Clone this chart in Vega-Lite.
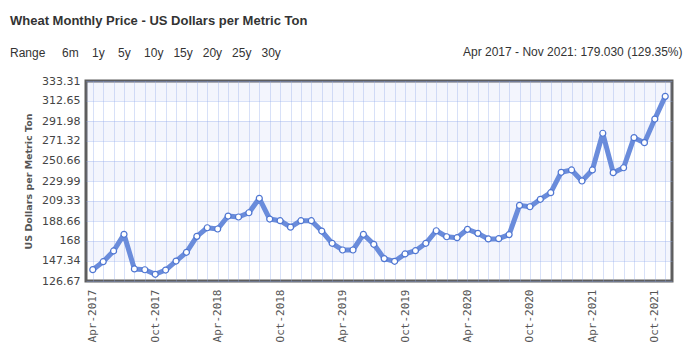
{
  "$schema": "https://vega.github.io/schema/vega-lite/v6.json",
  "autosize": {"type": "none"},
  "padding": {"left": 86, "top": 81, "right": 17, "bottom": 79},
  "width": 586,
  "height": 200,
  "background": "white",
  "title": {
    "text": "Wheat Monthly Price - US Dollars per Metric Ton",
    "subtitle": "Range\u00a0\u00a0\u00a0\u00a0\u00a06m\u00a0\u00a0\u00a0\u00a01y\u00a0\u00a0\u00a0\u00a05y\u00a0\u00a0\u00a0\u00a010y\u00a0\u00a0\u00a015y\u00a0\u00a0\u00a020y\u00a0\u00a0\u00a025y\u00a0\u00a0\u00a030y",
    "anchor": "start",
    "frame": "group",
    "dx": -76,
    "offset": -14,
    "font": "Liberation Sans",
    "fontSize": 13,
    "fontWeight": "bold",
    "color": "#333333",
    "subtitleFont": "Liberation Sans",
    "subtitleFontSize": 12,
    "subtitleColor": "#333333",
    "subtitlePadding": 20
  },
  "datasets": {
    "prices": [
      {"month": "Apr-2017", "price": 138.4},
      {"month": "May-2017", "price": 146.6},
      {"month": "Jun-2017", "price": 157.7},
      {"month": "Jul-2017", "price": 174.9},
      {"month": "Aug-2017", "price": 139.1},
      {"month": "Sep-2017", "price": 138.3},
      {"month": "Oct-2017", "price": 133.6},
      {"month": "Nov-2017", "price": 138.0},
      {"month": "Dec-2017", "price": 147.3},
      {"month": "Jan-2018", "price": 156.3},
      {"month": "Feb-2018", "price": 172.8},
      {"month": "Mar-2018", "price": 181.7},
      {"month": "Apr-2018", "price": 180.4},
      {"month": "May-2018", "price": 193.8},
      {"month": "Jun-2018", "price": 192.8},
      {"month": "Jul-2018", "price": 197.2},
      {"month": "Aug-2018", "price": 212.1},
      {"month": "Sep-2018", "price": 190.7},
      {"month": "Oct-2018", "price": 189.0},
      {"month": "Nov-2018", "price": 182.3},
      {"month": "Dec-2018", "price": 189.0},
      {"month": "Jan-2019", "price": 189.0},
      {"month": "Feb-2019", "price": 178.3},
      {"month": "Mar-2019", "price": 165.6},
      {"month": "Apr-2019", "price": 158.7},
      {"month": "May-2019", "price": 158.7},
      {"month": "Jun-2019", "price": 174.9},
      {"month": "Jul-2019", "price": 164.6},
      {"month": "Aug-2019", "price": 149.8},
      {"month": "Sep-2019", "price": 147.0},
      {"month": "Oct-2019", "price": 154.6},
      {"month": "Nov-2019", "price": 158.0},
      {"month": "Dec-2019", "price": 165.6},
      {"month": "Jan-2020", "price": 178.6},
      {"month": "Feb-2020", "price": 172.4},
      {"month": "Mar-2020", "price": 171.4},
      {"month": "Apr-2020", "price": 180.1},
      {"month": "May-2020", "price": 175.9},
      {"month": "Jun-2020", "price": 170.1},
      {"month": "Jul-2020", "price": 170.4},
      {"month": "Aug-2020", "price": 174.6},
      {"month": "Sep-2020", "price": 204.8},
      {"month": "Oct-2020", "price": 203.4},
      {"month": "Nov-2020", "price": 211.1},
      {"month": "Dec-2020", "price": 217.9},
      {"month": "Jan-2021", "price": 239.0},
      {"month": "Feb-2021", "price": 241.4},
      {"month": "Mar-2021", "price": 230.0},
      {"month": "Apr-2021", "price": 241.4},
      {"month": "May-2021", "price": 279.3},
      {"month": "Jun-2021", "price": 238.6},
      {"month": "Jul-2021", "price": 243.7},
      {"month": "Aug-2021", "price": 274.8},
      {"month": "Sep-2021", "price": 269.6},
      {"month": "Oct-2021", "price": 294.0},
      {"month": "Nov-2021", "price": 317.44}
    ],
    "bands": [
      {"lo": 147.34, "hi": 168},
      {"lo": 188.66, "hi": 209.33},
      {"lo": 229.99, "hi": 250.66},
      {"lo": 271.32, "hi": 291.98},
      {"lo": 312.65, "hi": 333.31}
    ]
  },
  "layer": [
    {
      "data": {"name": "bands"},
      "mark": {"type": "rect", "fill": "#8fa8ec", "fillOpacity": 0.11},
      "encoding": {
        "y": {
          "field": "lo", "type": "quantitative",
          "scale": {"domain": [126.67, 333.31], "nice": false, "zero": false},
          "axis": {
            "title": "US Dollars per Metric Ton",
            "values": [126.67, 147.34, 168, 188.66, 209.33, 229.99, 250.66, 271.32, 291.98, 312.65, 333.31],
            "format": ".2~f",
            "labelOverlap": false
          }
        },
        "y2": {"field": "hi"}
      }
    },
    {
      "data": {"name": "prices"},
      "mark": {"type": "line", "color": "#6a8cdb", "strokeWidth": 5, "strokeJoin": "round", "interpolate": "linear"},
      "encoding": {
        "x": {
          "field": "month", "type": "ordinal", "sort": null,
          "scale": {"type": "point", "padding": 0.65},
          "axis": {
            "orient": "bottom",
            "title": null,
            "labelAngle": 270,
            "labelExpr": "indexof(datum.label, 'Apr') == 0 || indexof(datum.label, 'Oct') == 0 ? datum.label : ''",
            "labelFont": "DejaVu Sans Mono",
            "labelFontSize": 11,
            "labelColor": "#555555",
            "labelPadding": 8,
            "labelOverlap": false,
            "ticks": false,
            "domain": false,
            "grid": true,
            "gridColor": "#8fa8ec",
            "gridOpacity": 0.35,
            "gridWidth": 1
          }
        },
        "y": {
          "field": "price", "type": "quantitative",
          "axis": {
            "title": "US Dollars per Metric Ton",
            "values": [126.67, 147.34, 168, 188.66, 209.33, 229.99, 250.66, 271.32, 291.98, 312.65, 333.31],
            "format": ".2~f",
            "labelOverlap": false
          }
        }
      }
    },
    {
      "data": {"name": "prices"},
      "mark": {"type": "point", "filled": false, "fill": "white", "fillOpacity": 1, "stroke": "#4f76d2", "strokeWidth": 1.2, "size": 36, "opacity": 1},
      "encoding": {
        "x": {
          "field": "month", "type": "ordinal", "sort": null,
          "axis": {
            "orient": "top",
            "title": "Apr 2017 - Nov 2021: 179.030 (129.35%)",
            "titleFont": "Liberation Sans",
            "titleFontSize": 12,
            "titleFontWeight": "normal",
            "titleColor": "#333333",
            "titleAnchor": "end",
            "titleX": 596,
            "titleY": -23,
            "titleAlign": "right",
            "labels": false,
            "ticks": false,
            "domain": false,
            "grid": false
          }
        },
        "y": {
          "field": "price", "type": "quantitative",
          "axis": {
            "title": "US Dollars per Metric Ton",
            "values": [126.67, 147.34, 168, 188.66, 209.33, 229.99, 250.66, 271.32, 291.98, 312.65, 333.31],
            "format": ".2~f",
            "labelOverlap": false
          }
        }
      }
    }
  ],
  "resolve": {"axis": {"x": "independent"}},
  "config": {
    "view": {"stroke": "#5e5e5e", "strokeWidth": 3},
    "axisY": {
      "titleFont": "DejaVu Sans",
      "titleFontSize": 9.5,
      "titleFontWeight": "bold",
      "titleColor": "#555555",
      "titlePadding": 8,
      "labelFont": "DejaVu Sans",
      "labelFontSize": 11,
      "labelColor": "#444444",
      "labelPadding": 6,
      "labelOverlap": false,
      "labelFlush": false,
      "ticks": false,
      "domain": false,
      "grid": true,
      "gridColor": "#8fa8ec",
      "gridOpacity": 0.35,
      "gridWidth": 1
    }
  }
}
